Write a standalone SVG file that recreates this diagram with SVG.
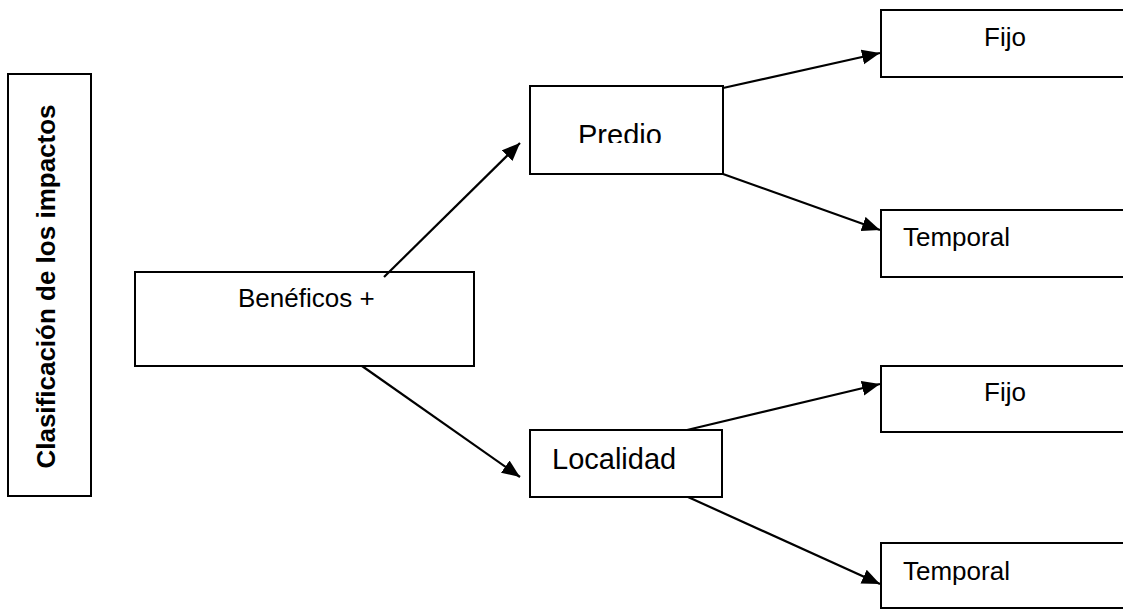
<svg xmlns="http://www.w3.org/2000/svg" width="1123" height="610" viewBox="0 0 1123 610">
  <style>
    .box { fill: #ffffff; stroke: #000000; stroke-width: 2; }
    .lbl { font-family: "Liberation Sans", Arial, sans-serif; font-size: 26px; fill: #000000; }
    .big { font-size: 29px; }
    .title { font-weight: bold; }
    .conn { stroke: #000000; stroke-width: 2.2; fill: none; marker-end: url(#arrow); }
  </style>
  <defs>
    <marker id="arrow" markerUnits="userSpaceOnUse" markerWidth="19" markerHeight="16" refX="18" refY="7.5" orient="auto">
      <path d="M0,0 L18,7.5 L0,15 z" fill="#000000"/>
    </marker>
    <clipPath id="predioClip">
      <rect x="530" y="86" width="193" height="57"/>
    </clipPath>
  </defs>
  <rect width="1123" height="610" fill="#ffffff"/>

  <g id="node-clasificacion">
    <rect class="box" x="8" y="74" width="83" height="422"/>
    <text class="lbl title" text-anchor="middle" transform="translate(55,286.5) rotate(-90)">Clasificación de los impactos</text>
  </g>

  <g id="node-beneficos">
    <rect class="box" x="135" y="272" width="339" height="94"/>
    <text class="lbl" x="238" y="307">Benéficos +</text>
  </g>

  <g id="node-predio">
    <rect class="box" x="530" y="86" width="193" height="88"/>
    <text class="lbl big" x="578" y="145" clip-path="url(#predioClip)">Predio</text>
  </g>

  <g id="node-localidad">
    <rect class="box" x="530" y="430" width="192" height="67"/>
    <text class="lbl big" x="552" y="469">Localidad</text>
  </g>

  <g id="node-fijo-1">
    <rect class="box" x="881" y="10" width="260" height="67"/>
    <text class="lbl" x="984" y="46">Fijo</text>
  </g>

  <g id="node-temporal-1">
    <rect class="box" x="881" y="210" width="260" height="67"/>
    <text class="lbl" x="903" y="246">Temporal</text>
  </g>

  <g id="node-fijo-2">
    <rect class="box" x="881" y="366" width="260" height="66"/>
    <text class="lbl" x="984" y="401">Fijo</text>
  </g>

  <g id="node-temporal-2">
    <rect class="box" x="881" y="543" width="260" height="65"/>
    <text class="lbl" x="903" y="580">Temporal</text>
  </g>

  <g id="connectors">
    <line class="conn" x1="384" y1="277" x2="520" y2="143"/>
    <line class="conn" x1="362" y1="366" x2="520" y2="477"/>
    <line class="conn" x1="723" y1="88" x2="880" y2="53"/>
    <line class="conn" x1="723" y1="174" x2="880" y2="230"/>
    <line class="conn" x1="687" y1="430" x2="880" y2="384"/>
    <line class="conn" x1="688" y1="497" x2="880" y2="584"/>
  </g>
</svg>
